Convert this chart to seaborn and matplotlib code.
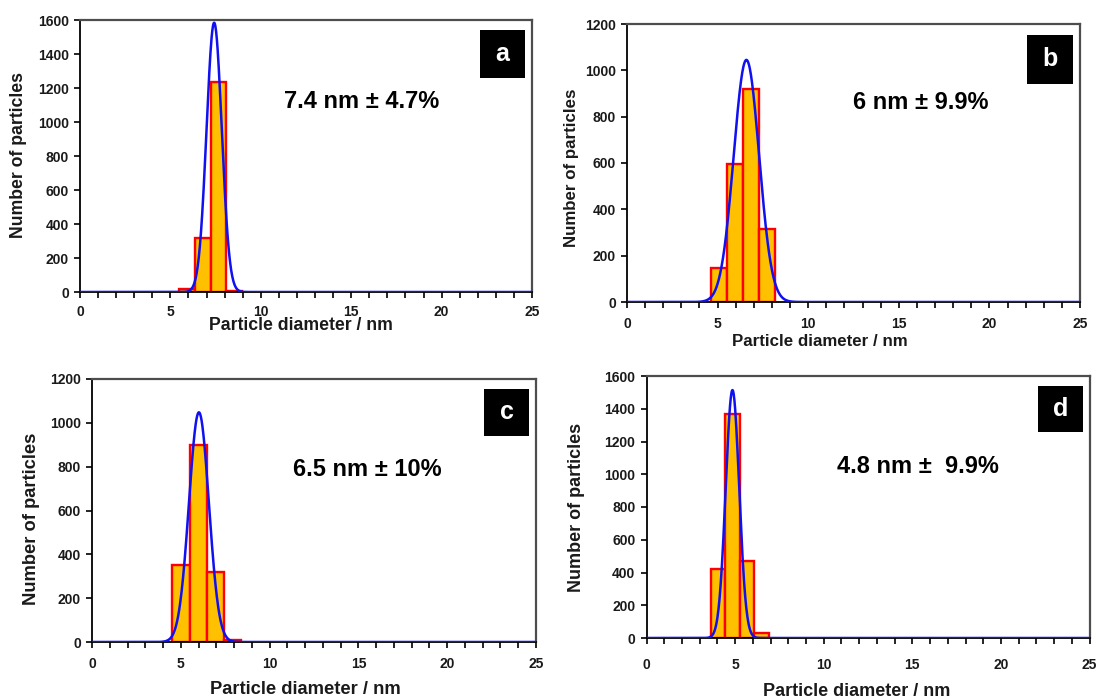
import numpy as np
import pandas as pd
import matplotlib
matplotlib.use("Agg")
import matplotlib.pyplot as plt
from matplotlib.patches import Rectangle
from matplotlib.ticker import MultipleLocator
import seaborn as sns

sns.set_theme(style="white")
plt.rcParams["font.family"] = ["Liberation Sans", "DejaVu Sans"]

# ---- histogram data (bin start, bin width, counts) per sample ----
labels = ["a", "b", "c", "d"]
size_texts = ["7.4 nm \u00b1 4.7%", "6 nm \u00b1 9.9%", "6.5 nm \u00b1 10%", "4.8 nm \u00b1  9.9%"]

bin_start = [5.49, 4.64, 4.53, 3.62]
bin_width = [0.87, 0.885, 0.96, 0.82]
counts_a = [20, 320, 1237, 3]
counts_b = [148, 594, 919, 313]
counts_c = [352, 898, 320, 8]
counts_d = [424, 1366, 469, 31]
counts = [counts_a, counts_b, counts_c, counts_d]

# Gaussian fit parameters: centre, sigma, peak height
fit_mu = [7.42, 6.59, 6.02, 4.85]
fit_sigma = [0.42, 0.70, 0.56, 0.38]
fit_peak = [1584, 1045, 1048, 1514]

y_max = [1600, 1200, 1200, 1600]
y_step = [200, 200, 200, 200]
x_ticks = [0, 5, 10, 15, 20, 25]

# ---- layout ----
W, H = 1100, 699
axes_px = [  # left, right, top, bottom in pixels
    (80, 532, 20, 292),
    (627, 1080, 24, 302),
    (92, 536, 379, 642),
    (646.5, 1089.6, 376, 638),
]
text_pos = [(0.624, 0.700), (0.649, 0.716), (0.619, 0.654), (0.613, 0.656)]
xlabel_pos = [(0.488, -0.093), (0.426, -0.115), (0.48, -0.150), (0.475, -0.170)]
ylabel_pos = [(-0.117, 0.504), (-0.106, 0.484), (-0.118, 0.468), (-0.138, 0.50)]
label_size = [12.7, 12.2, 13.2, 13.0]
xtick_pad = [5.0, 6.5, 6.5, 10.0]

fig = plt.figure(figsize=(W / 100, H / 100), dpi=100)
fig.patch.set_facecolor("white")

for i in range(4):
    l, r, t, b = axes_px[i]
    ax = fig.add_axes([l / W, (H - b) / H, (r - l) / W, (b - t) / H])
    ax.set_facecolor("white")

    n = len(counts[i])
    w = bin_width[i]
    lo = bin_start[i]
    hist_df = pd.DataFrame({"diameter": lo + w * (np.arange(n) + 0.5),
                            "count": counts[i]})
    sns.histplot(data=hist_df, x="diameter", weights="count",
                 binwidth=w, binrange=(lo, lo + n * w),
                 ax=ax, color="#FFC000", edgecolor="#FF0000", linewidth=1.7,
                 alpha=1.0, zorder=2)

    xs = np.linspace(0, 25, 1200)
    ys = fit_peak[i] * np.exp(-0.5 * ((xs - fit_mu[i]) / fit_sigma[i]) ** 2)
    sns.lineplot(x=xs, y=ys, ax=ax, color="#1010F0", linewidth=1.8, zorder=3)

    ax.set_xlim(0, 25)
    ax.set_ylim(0, y_max[i])
    ax.set_xticks(x_ticks)
    ax.xaxis.set_minor_locator(MultipleLocator(1))
    ax.yaxis.set_major_locator(MultipleLocator(y_step[i]))
    ax.tick_params(axis="both", which="both", direction="out", length=4.5,
                   width=1.2, color="black", bottom=True, left=True,
                   labelsize=10)
    ax.tick_params(axis="y", pad=3.5)
    ax.tick_params(axis="x", which="major", pad=xtick_pad[i])
    for lab in ax.get_xticklabels() + ax.get_yticklabels():
        lab.set_fontweight("bold")
        lab.set_color("#1a1a1a")

    for s in ["left", "bottom"]:
        ax.spines[s].set_color("black")
        ax.spines[s].set_linewidth(1.3)
    for s in ["top", "right"]:
        ax.spines[s].set_color("#4d4d4d")
        ax.spines[s].set_linewidth(1.6)
    for s in ax.spines.values():
        s.set_visible(True)

    ax.set_xlabel("Particle diameter / nm", fontsize=label_size[i],
                  fontweight="bold", color="#1a1a1a")
    ax.set_ylabel("Number of particles", fontsize=label_size[i],
                  fontweight="bold", color="#1a1a1a")
    ax.xaxis.set_label_coords(*xlabel_pos[i])
    ax.yaxis.set_label_coords(*ylabel_pos[i])

    ax.text(*text_pos[i], size_texts[i], transform=ax.transAxes,
            ha="center", va="center", fontsize=17, fontweight="bold",
            color="black")

    ax.add_patch(Rectangle((0.884, 0.785), 0.101, 0.177,
                           transform=ax.transAxes, facecolor="black",
                           edgecolor="none", zorder=5))
    ax.text(0.9345, 0.8735, labels[i], transform=ax.transAxes,
            ha="center", va="center", fontsize=18, fontweight="bold",
            color="white", zorder=6)

fig.savefig("out.png", dpi=100, facecolor="white")
